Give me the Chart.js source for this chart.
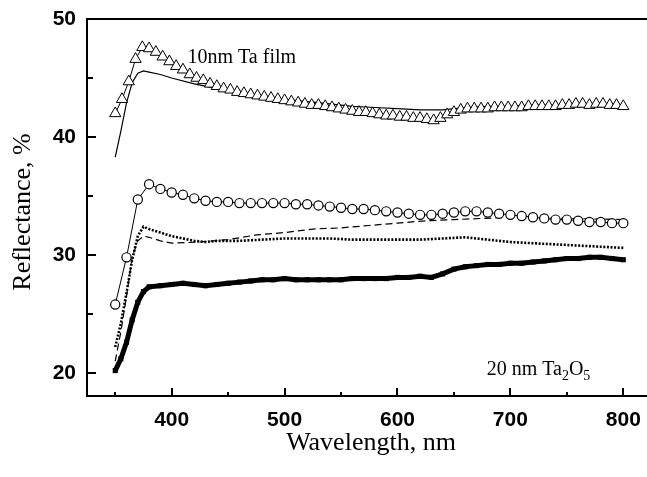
<!DOCTYPE html>
<html>
<head>
<meta charset="utf-8">
<script src="https://cdn.jsdelivr.net/npm/chart.js@4.4.0/dist/chart.umd.min.js"></script>
<style>
  html, body { margin: 0; padding: 0; background: #fff; }
  #wrap { width: 647px; height: 477px; }
</style>
</head>
<body>
<div id="wrap"><canvas id="chart" width="647" height="477"></canvas></div>
<script>
// 10nm Ta film, measured (open triangles)
const triWl = [350,356,362,368,374,380,386,392,398,404,410,416,422,428,434,440,446,452,458,464,
  470,476,482,488,494,500,506,512,518,524,530,536,542,548,554,560,566,572,578,584,
  590,596,602,608,614,620,626,632,638,644,650,656,662,668,674,680,686,692,698,704,
  710,716,722,728,734,740,746,752,758,764,770,776,782,788,794,800];
const triR = [42.0,43.2,44.7,46.6,47.6,47.5,47.2,46.8,46.4,46.0,45.7,45.3,45.0,44.8,44.5,44.3,44.1,44.0,43.8,43.7,
  43.6,43.5,43.4,43.3,43.2,43.1,43.0,42.9,42.8,42.7,42.7,42.6,42.5,42.4,42.3,42.2,42.1,42.1,42.0,41.9,
  41.8,41.8,41.7,41.7,41.6,41.6,41.5,41.4,41.6,41.9,42.1,42.3,42.4,42.4,42.4,42.4,42.5,42.5,42.5,42.5,
  42.5,42.6,42.6,42.6,42.6,42.6,42.7,42.7,42.8,42.8,42.7,42.8,42.8,42.7,42.7,42.6];

// 10nm Ta film, calculated (thin solid line)
const simWl = [350,355,360,365,370,375,380,390,400,420,440,460,480,500,520,540,560,580,600,620,640,660,680,700,720,740,760,780,800];
const simR  = [38.3,40.5,42.9,44.6,45.4,45.6,45.5,45.3,45.0,44.5,44.1,43.8,43.5,43.2,43.0,42.8,42.6,42.5,42.4,42.3,42.3,42.5,42.6,42.6,42.7,42.7,42.8,42.8,42.7];

// open circles
const cirWl = [350,360,370,380,390,400,410,420,430,440,450,460,470,480,490,500,510,520,530,540,
  550,560,570,580,590,600,610,620,630,640,650,660,670,680,690,700,710,720,730,740,
  750,760,770,780,790,800];
const cirR = [25.8,29.8,34.7,36.0,35.6,35.3,35.1,34.8,34.6,34.5,34.5,34.4,34.4,34.4,34.4,34.4,34.3,34.3,34.2,34.1,
  34.0,33.9,33.9,33.8,33.7,33.6,33.5,33.4,33.4,33.5,33.6,33.7,33.7,33.6,33.5,33.4,33.3,33.2,33.1,33.0,
  33.0,32.9,32.8,32.8,32.7,32.7];

// dotted curve
const dotWl = [350,355,360,365,370,375,380,390,400,410,420,430,440,460,480,500,520,540,560,580,600,620,640,660,680,700,720,740,760,780,800];
const dotR  = [22.2,24.2,26.8,29.6,31.6,32.4,32.2,31.9,31.6,31.4,31.2,31.1,31.2,31.2,31.3,31.4,31.4,31.4,31.3,31.3,31.3,31.3,31.4,31.5,31.3,31.1,31.0,30.9,30.8,30.7,30.6];

// dashed curve
const dashWl = [350,355,360,365,370,375,380,390,400,425,450,475,500,525,550,575,600,625,650,675,700,750,800];
const dashR  = [21.0,23.5,26.5,29.8,31.2,31.6,31.5,31.2,31.0,31.1,31.3,31.7,31.9,32.2,32.3,32.5,32.7,32.9,33.0,33.1,33.2,33.1,33.0];

// 20 nm Ta2O5 (filled squares)
const sqWl = [350,355,360,365,370,375,380,390,400,410,420,430,440,450,460,470,480,490,500,510,
  520,530,540,550,560,570,580,590,600,610,620,630,640,650,660,670,680,690,700,710,
  720,730,740,750,760,770,780,790,800];
const sqR = [20.2,21.2,22.6,24.5,26.0,26.9,27.3,27.4,27.5,27.6,27.5,27.4,27.5,27.6,27.7,27.8,27.9,27.9,28.0,27.9,
  27.9,27.9,27.9,27.9,28.0,28.0,28.0,28.0,28.1,28.1,28.2,28.1,28.4,28.8,29.0,29.1,29.2,29.2,29.3,29.3,
  29.4,29.5,29.6,29.7,29.7,29.8,29.8,29.7,29.6];

const xTicks = [350,400,450,500,550,600,650,700,750,800];
const yTicks = [20,25,30,35,40,45,50];

const pts = (xs, ys) => xs.map((v, i) => ({x: v, y: ys[i]}));

const framePlugin = {
  id: 'frame',
  afterDraw(chart) {
    const {ctx, chartArea: a, scales: {x, y}} = chart;
    ctx.save();
    ctx.strokeStyle = '#000';
    ctx.lineWidth = 2;
    ctx.beginPath();
    ctx.moveTo(a.right, a.top); ctx.lineTo(a.left, a.top);
    ctx.lineTo(a.left, a.bottom); ctx.lineTo(a.right, a.bottom);
    yTicks.forEach(v => {
      const p = Math.round(y.getPixelForValue(v));
      const len = v % 10 === 0 ? 9 : 6;
      ctx.moveTo(a.left, p); ctx.lineTo(a.left + len, p);
    });
    xTicks.forEach(v => {
      const p = Math.round(x.getPixelForValue(v));
      const len = v % 100 === 0 ? 8 : 4;
      ctx.moveTo(p, a.bottom); ctx.lineTo(p, a.bottom - len);
    });
    ctx.stroke();

    // axis titles
    ctx.fillStyle = '#000';
    ctx.font = '26px "Liberation Serif"';
    ctx.textAlign = 'center';
    ctx.textBaseline = 'middle';
    ctx.fillText('Wavelength, nm', 371, 443);
    ctx.save();
    ctx.translate(23, 212);
    ctx.rotate(-Math.PI / 2);
    ctx.fillText('Reflectance, %', 0, 0);
    ctx.restore();

    // labels inside the plot
    ctx.font = '20px "Liberation Serif"';
    ctx.textAlign = 'left';
    ctx.textBaseline = 'alphabetic';
    ctx.fillText('10nm Ta film', x.getPixelForValue(414), y.getPixelForValue(46.3));

    let tx = x.getPixelForValue(679);
    const by = y.getPixelForValue(19.8);
    const parts = [['20 nm Ta', 0, 20], ['2', 5, 14], ['O', 0, 20], ['5', 5, 14]];
    parts.forEach(([t, dy, fs]) => {
      ctx.font = fs + 'px "Liberation Serif"';
      ctx.fillText(t, tx, by + dy);
      tx += ctx.measureText(t).width;
    });
    ctx.restore();
  }
};

new Chart(document.getElementById('chart'), {
  type: 'scatter',
  data: {
    datasets: [
      {
        data: pts(simWl, simR), showLine: true, borderColor: '#000', borderWidth: 1.2,
        pointRadius: 0, order: 5
      },
      {
        data: pts(triWl, triR), showLine: true, borderColor: '#000', borderWidth: 1,
        pointStyle: 'triangle', pointRadius: 6.5, pointBorderWidth: 1,
        pointBackgroundColor: '#fff', pointBorderColor: '#000', order: 4
      },
      {
        data: pts(dashWl, dashR), showLine: true, borderColor: '#000', borderWidth: 1.2,
        borderDash: [7, 4], pointRadius: 0, order: 3
      },
      {
        data: pts(dotWl, dotR), showLine: true, borderColor: '#000', borderWidth: 2.6,
        borderDash: [2, 1.6], pointRadius: 0, order: 2
      },
      {
        data: pts(cirWl, cirR), showLine: true, borderColor: '#000', borderWidth: 1,
        pointStyle: 'circle', pointRadius: 4.6, pointBorderWidth: 1.2,
        pointBackgroundColor: '#fff', pointBorderColor: '#000', order: 1
      },
      {
        data: pts(sqWl, sqR), showLine: true, borderColor: '#000', borderWidth: 5,
        pointStyle: 'rect', pointRadius: 3.6, pointBorderWidth: 0,
        pointBackgroundColor: '#000', order: 0
      }
    ]
  },
  options: {
    responsive: false,
    animation: false,
    layout: { autoPadding: false, padding: { top: 19, right: 0, left: 0, bottom: 0 } },
    plugins: { legend: { display: false }, tooltip: { enabled: false } },
    scales: {
      x: {
        type: 'linear', min: 325, max: 821,
        grid: { display: false, drawTicks: false }, border: { display: false },
        afterFit: s => { s.height = 81; s.paddingRight = 0; s.paddingLeft = 0; },
        afterBuildTicks: s => { s.ticks = xTicks.map(v => ({value: v})); },
        ticks: {
          padding: 12, color: '#000',
          font: { family: '"Liberation Sans"', size: 21, weight: 'bold' },
          callback: v => (v % 100 === 0 ? String(v) : '')
        }
      },
      y: {
        min: 18.05, max: 50,
        grid: { display: false, drawTicks: false }, border: { display: false },
        afterFit: s => { s.width = 87; s.paddingTop = 0; s.paddingBottom = 0; },
        afterBuildTicks: s => { s.ticks = yTicks.map(v => ({value: v})); },
        ticks: {
          padding: 11, color: '#000',
          font: { family: '"Liberation Sans"', size: 21, weight: 'bold' },
          callback: v => (v % 10 === 0 ? String(v) : '')
        }
      }
    }
  },
  plugins: [framePlugin]
});
</script>
</body>
</html>
